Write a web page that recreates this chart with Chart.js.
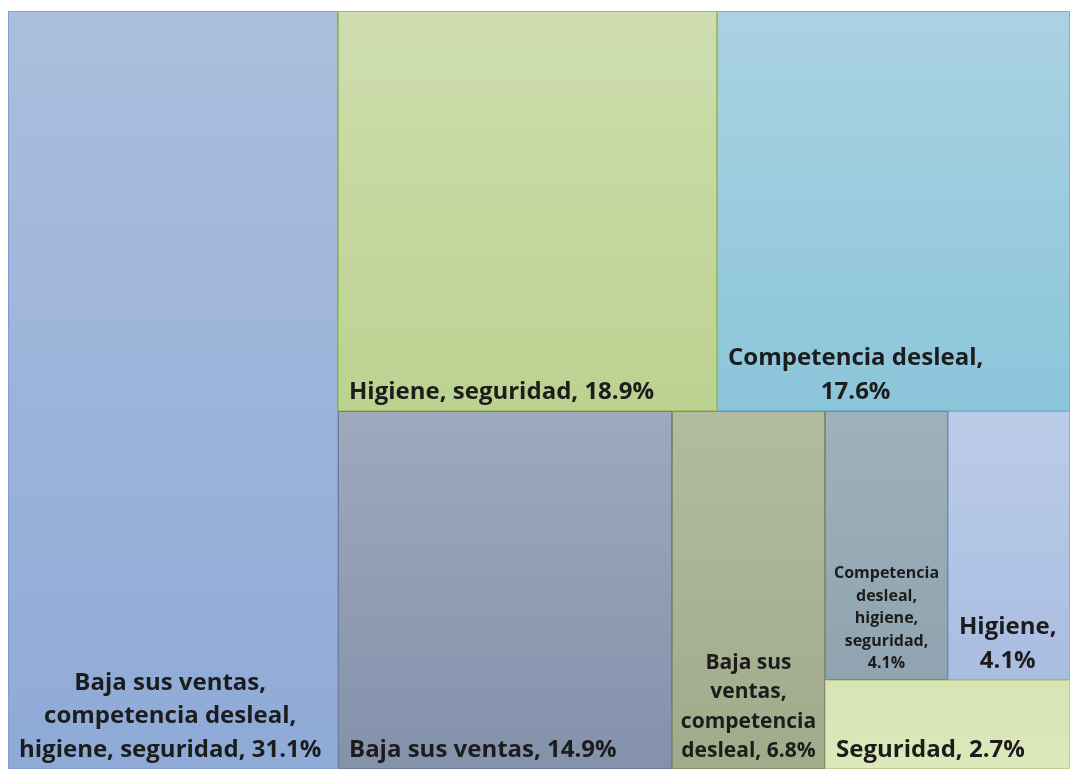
<!DOCTYPE html>
<html>
<head>
<meta charset="utf-8">
<title>Treemap</title>
<script src="https://cdn.jsdelivr.net/npm/chart.js@4"></script>
<style>
  html, body { margin: 0; padding: 0; background: #ffffff; }
  #wrap { width: 1070px; height: 769px; position: relative; }
</style>
</head>
<body>
<div id="wrap"><canvas id="treemapChart"></canvas></div>
<script>
// Categories and their share of responses (%)
const categories = [
    'Baja sus ventas, competencia desleal, higiene, seguridad',
    'Higiene, seguridad',
    'Competencia desleal',
    'Baja sus ventas',
    'Baja sus ventas, competencia desleal',
    'Competencia desleal, higiene, seguridad',
    'Higiene',
    'Seguridad'
];
const shares = [31.1, 18.9, 17.6, 14.9, 6.8, 4.1, 4.1, 2.7];

// How the cells are grouped: 'h' = side by side, 'v' = stacked (indexes into categories)
const layoutTree = ['h', 0, ['v', ['h', 1, 2], ['h', 3, 4, ['v', ['h', 5, 6], 7]]]];

// Cell colours: gradient top, gradient bottom, border
const fillTop = ['#abbedd', '#cfddaf', '#aad2e3', '#9ea9be', '#b1bb9f', '#9fb2bb', '#bbcce8', '#d8e4b3'];
const fillBottom = ['#8eaad7', '#bbd290', '#8bc5da', '#8391ab', '#a1ab8a', '#8fa4b0', '#a9bde1', '#dde8bb'];
const borderColors = ['#809dcd', '#9fbe64', '#72b4cd', '#6f7c98', '#838d6d', '#73899a', '#93aad4', '#bfd08d'];

function nodeSum(node) {
    if (typeof node === 'number') return shares[node];
    return node.slice(1).reduce((s, k) => s + nodeSum(k), 0);
}

// split the 0-100 x 0-100 value space according to the tree
function layoutNode(node, x0, y0, x1, y1, out) {
    if (typeof node === 'number') {
        out[node] = { x0, y0, x1, y1 };
        return;
    }
    const dir = node[0];
    const kids = node.slice(1);
    const total = nodeSum(node);
    let pos = dir === 'h' ? x0 : y0;
    kids.forEach(k => {
        const frac = nodeSum(k) / total;
        if (dir === 'h') {
            const w = (x1 - x0) * frac;
            layoutNode(k, pos, y0, pos + w, y1, out);
            pos += w;
        } else {
            const h = (y1 - y0) * frac;
            layoutNode(k, x0, pos, x1, pos + h, out);
            pos += h;
        }
    });
}

const cells = [];
layoutNode(layoutTree, 0, 0, 100, 100, cells);

const FONT_FAMILY = '"Open Sans", sans-serif';

function wrapText(ctx, text, maxW) {
    const words = text.split(' ');
    const lines = [];
    let line = '';
    words.forEach(w => {
        const test = line ? line + ' ' + w : w;
        if (ctx.measureText(test).width <= maxW || !line) {
            line = test;
        } else {
            lines.push(line);
            line = w;
        }
    });
    if (line) lines.push(line);
    return lines;
}

const treemapPlugin = {
    id: 'treemapCells',
    afterDatasetsDraw(chart) {
        const ctx = chart.ctx;
        const xs = chart.scales.x;
        const ys = chart.scales.y;
        ctx.save();
        cells.forEach((c, i) => {
            const left = Math.round(xs.getPixelForValue(c.x0));
            const right = Math.round(xs.getPixelForValue(c.x1));
            const top = Math.round(ys.getPixelForValue(c.y0));
            const bottom = Math.round(ys.getPixelForValue(c.y1));
            const w = right - left;
            const h = bottom - top;

            const grad = ctx.createLinearGradient(0, top, 0, bottom);
            grad.addColorStop(0, fillTop[i]);
            grad.addColorStop(1, fillBottom[i]);
            ctx.fillStyle = grad;
            ctx.fillRect(left, top, w, h);
            ctx.strokeStyle = borderColors[i];
            ctx.lineWidth = 1;
            ctx.strokeRect(left + 0.5, top + 0.5, w - 1, h - 1);

            // label, shrunk until the longest word fits
            const label = categories[i] + ', ' + shares[i].toFixed(1) + '%';
            const maxW = w - Math.min(24, w * 0.1);
            let size = 24;
            let lines;
            while (size > 8) {
                ctx.font = 'bold ' + size + 'px ' + FONT_FAMILY;
                const longest = Math.max(...label.split(' ').map(s => ctx.measureText(s).width));
                lines = wrapText(ctx, label, maxW);
                if (longest <= maxW && lines.length * size * 1.4 <= h - 10) break;
                size -= 1;
            }
            const lh = size * 1.4;
            const blockW = Math.max(...lines.map(l => ctx.measureText(l).width));
            const cx = left + Math.max(4, Math.min(11, (w - blockW) / 2)) + blockW / 2;
            ctx.fillStyle = '#1c1c1c';
            ctx.textAlign = 'center';
            ctx.textBaseline = 'alphabetic';
            const lastBase = bottom - 12;
            lines.forEach((l, k) => {
                ctx.fillText(l, cx, lastBase - (lines.length - 1 - k) * lh);
            });
        });
        ctx.restore();
    }
};

const ctx = document.getElementById('treemapChart').getContext('2d');
new Chart(ctx, {
    type: 'scatter',
    data: {
        datasets: [{
            label: 'Participación (%)',
            data: []
        }]
    },
    options: {
        responsive: true,
        maintainAspectRatio: false,
        animation: false,
        layout: {
            padding: { left: 8, top: 11, right: 0, bottom: 0 }
        },
        scales: {
            x: { type: 'linear', min: 0, max: 100, display: false },
            y: { type: 'linear', min: 0, max: 100, reverse: true, display: false }
        },
        plugins: {
            legend: { display: false },
            tooltip: { enabled: false }
        }
    },
    plugins: [treemapPlugin]
});
</script>
</body>
</html>
